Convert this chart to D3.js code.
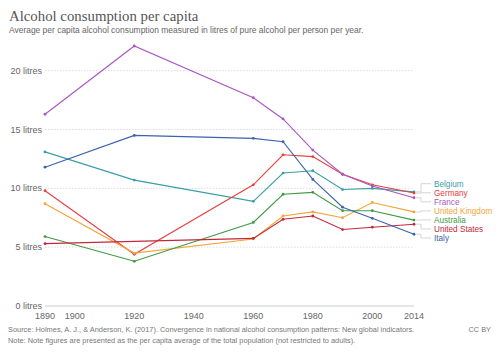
<!DOCTYPE html>
<html>
<head>
<meta charset="utf-8">
<script src="https://cdn.jsdelivr.net/npm/d3@7"></script>
<style>
  body { margin: 0; background: #fff; }
  svg { font-family: "Liberation Sans", Arial, sans-serif; }
</style>
</head>
<body>
<svg id="chart" width="500" height="353"></svg>
<script>
// data
var years = [1890, 1920, 1960, 1970, 1980, 1990, 2000, 2014];
var belgium = [13.1, 10.7, 8.9, 11.3, 11.5, 9.9, 10.0, 9.7];
var germany = [9.8, 4.4, 10.3, 12.85, 12.7, 11.2, 10.3, 9.6];
var france = [16.3, 22.1, 17.7, 15.9, 13.25, 11.2, 10.2, 9.2];
var unitedKingdom = [8.7, 4.5, 5.7, 7.65, 8.0, 7.5, 8.8, 8.0];
var australia = [5.9, 3.8, 7.1, 9.5, 9.66, 8.1, 8.1, 7.3];
var unitedStates = [5.3, null, 5.75, 7.37, 7.65, 6.5, 6.7, 6.95];
var italy = [11.8, 14.5, 14.25, 13.96, 10.76, 8.4, 7.45, 6.1];

var yTicks = [0, 5, 10, 15, 20];
var xTicks = [1890, 1900, 1920, 1940, 1960, 1980, 2000, 2014];

var series = [
  { name: "Belgium", values: belgium, color: "#3a9fa3" },
  { name: "Germany", values: germany, color: "#e5413f" },
  { name: "France", values: france, color: "#a857c2" },
  { name: "United Kingdom", values: unitedKingdom, color: "#f2a53a" },
  { name: "Australia", values: australia, color: "#3e9a45" },
  { name: "United States", values: unitedStates, color: "#c3283a" },
  { name: "Italy", values: italy, color: "#3d61ad" }
];

var svg = d3.select("#chart");
var plotLeft = 45, plotRight = 414, plotTop = 70.7, plotBottom = 306;

var x = d3.scaleLinear().domain([1890, 2014]).range([plotLeft, plotRight]);
var y = d3.scaleLinear().domain([0, 20]).range([plotBottom, plotTop]);

// title
svg.append("text")
  .attr("x", 9).attr("y", 21)
  .style("font-family", "'Liberation Serif', 'DejaVu Serif', serif")
  .style("font-size", "14.8px")
  .style("fill", "#555")
  .text("Alcohol consumption per capita");

svg.append("text")
  .attr("x", 9).attr("y", 33)
  .style("font-size", "8.45px")
  .style("fill", "#666")
  .text("Average per capita alcohol consumption measured in litres of pure alcohol per person per year.");

// grid
svg.append("g").selectAll("line")
  .data(yTicks.filter(function(d) { return d > 0; }))
  .enter()
  .append("line")
  .attr("x1", plotLeft).attr("x2", plotRight)
  .attr("y1", function(d) { return y(d); })
  .attr("y2", function(d) { return y(d); })
  .style("stroke", "#ddd")
  .style("stroke-dasharray", "1.5,1.5")
  .style("stroke-width", 1);

svg.append("line")
  .attr("x1", plotLeft).attr("x2", plotRight)
  .attr("y1", y(0)).attr("y2", y(0))
  .style("stroke", "#ccc").style("stroke-width", 1);

svg.append("g").selectAll("text")
  .data(yTicks)
  .enter()
  .append("text")
  .attr("x", 42)
  .attr("y", function(d) { return y(d) + 3; })
  .attr("text-anchor", "end")
  .style("font-size", "9px")
  .style("fill", "#666")
  .text(function(d) { return d + " litres"; });

svg.append("g").selectAll("text")
  .data(xTicks)
  .enter()
  .append("text")
  .attr("x", function(d) { return x(d); })
  .attr("y", 319)
  .attr("text-anchor", "middle")
  .style("font-size", "9px")
  .style("fill", "#666")
  .text(function(d) { return d; });

// lines
var line = d3.line()
  .x(function(d) { return x(d.year); })
  .y(function(d) { return y(d.v); });

series.forEach(function(s) {
  var pts = years.map(function(yr, i) { return { year: yr, v: s.values[i] }; })
    .filter(function(d) { return d.v != null; });
  svg.append("path")
    .datum(pts)
    .attr("d", line)
    .style("fill", "none")
    .style("stroke", s.color)
    .style("stroke-width", 1.1);
  svg.append("g").selectAll("circle")
    .data(pts)
    .enter()
    .append("circle")
    .attr("cx", function(d) { return x(d.year); })
    .attr("cy", function(d) { return y(d.v); })
    .attr("r", 1.4)
    .style("fill", s.color);
});

// legend with leader lines
var labelY0 = 183.7, labelStep = 9.05;
series.forEach(function(s, i) {
  var ly = labelY0 + i * labelStep;
  var ey = y(s.values[s.values.length - 1]);
  svg.append("path")
    .attr("d", "M" + (plotRight + 2) + "," + ey + "H421V" + ly + "H431")
    .style("fill", "none")
    .style("stroke", "#ccc")
    .style("stroke-width", 0.8);
  svg.append("text")
    .attr("x", 434)
    .attr("y", ly + 3)
    .style("font-size", "8.2px")
    .style("fill", s.color)
    .text(s.name);
});

// footer
svg.append("text")
  .attr("x", 8).attr("y", 332)
  .style("font-size", "7.4px")
  .style("fill", "#777")
  .text("Source: Holmes, A. J., & Anderson, K. (2017). Convergence in national alcohol consumption patterns: New global indicators.");
svg.append("text")
  .attr("x", 8).attr("y", 343)
  .style("font-size", "7.4px")
  .style("fill", "#777")
  .text("Note: Note figures are presented as the per capita average of the total population (not restricted to adults).");
svg.append("text")
  .attr("x", 491).attr("y", 332)
  .attr("text-anchor", "end")
  .style("font-size", "7.4px")
  .style("fill", "#777")
  .text("CC BY");
</script>
</body>
</html>
